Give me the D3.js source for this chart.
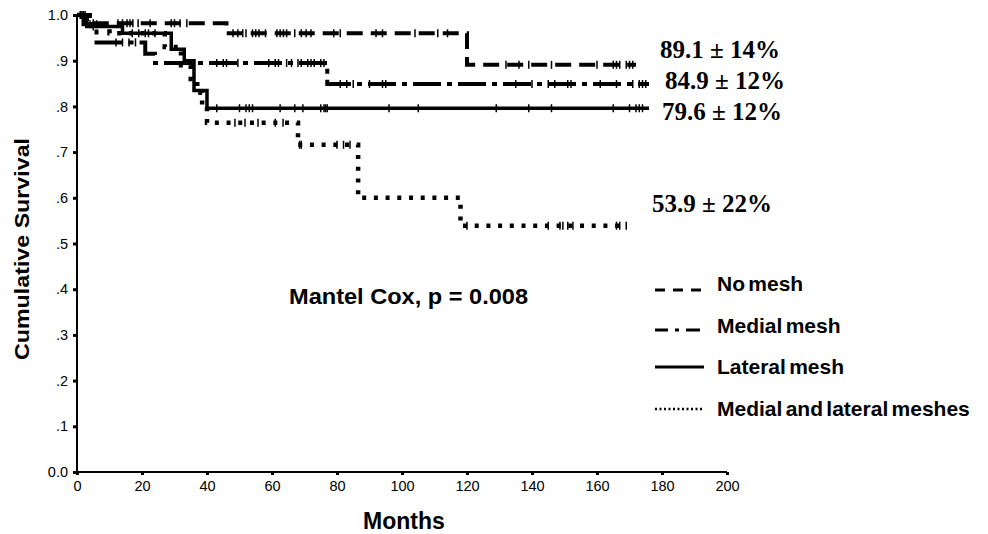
<!DOCTYPE html>
<html><head><meta charset="utf-8">
<script src="https://cdn.jsdelivr.net/npm/d3@7"></script>
<style>
body{margin:0;background:#fff;}
svg{display:block;}
.ax text{font-family:"Liberation Sans",Arial,sans-serif;font-size:14.5px;fill:#000;}
</style></head><body>
<svg id="c" width="988" height="534"></svg>
<script>
// ---- data ----
const groups = ["No mesh", "Medial mesh", "Lateral mesh", "Medial and lateral meshes"];
const noMeshTimes = [0, 4, 46, 120];
const noMeshSurv  = [1.0, 0.982, 0.96, 0.891];
const noMeshEnd = 172;
const medialTimes = [0, 2, 6, 21, 24, 77];
const medialSurv  = [1.0, 0.98, 0.94, 0.915, 0.895, 0.849];
const medialEnd = 176;
const lateralTimes = [0, 3, 14, 29, 33, 36, 40];
const lateralSurv  = [1.0, 0.975, 0.96, 0.925, 0.90, 0.835, 0.796];
const lateralEnd = 176;
const bothTimes = [0, 3, 10, 27, 32, 35, 37, 38.5, 40, 68, 86.5, 118];
const bothSurv  = [1.0, 0.98, 0.96, 0.93, 0.89, 0.86, 0.83, 0.80, 0.764, 0.716, 0.60, 0.539];
const bothEnd = 169;

const noMeshCensor = [1, 2.5, 5, 12.6, 14, 15.4, 16.3, 17.2, 18.8, 22.5, 29, 30, 31.7, 33.8, 48, 49.5, 51, 52, 54, 55, 56, 58, 61.5, 62.5, 63.5, 64.5, 67, 69, 70.5, 72, 79, 81, 92, 94, 104, 111, 114, 132, 136, 139, 146, 160, 165, 166, 167, 169, 170, 171];
const medialCensor = [1.5, 4, 12, 14, 16, 18, 43, 45, 46, 49.5, 59, 61, 62, 64.5, 66, 68, 69, 71, 72, 73, 75, 76, 81, 83, 85, 90, 94, 95, 135, 140, 145, 147, 151, 152, 161, 166, 171, 173, 174, 175];
const lateralCensor = [2, 5, 17, 19, 21, 24, 43, 50, 52, 53, 54, 62.5, 67, 69.5, 75, 76, 76.5, 77, 96, 105, 129, 139, 146, 165, 170, 172, 173, 174];
const bothCensor = [2, 6, 22, 48.6, 51.7, 55.7, 61, 63.4, 68.5, 69, 80, 82, 84, 120, 145, 148.6, 149.5, 151, 152.6, 166, 167, 169];

const pctLabels = ["89.1 ± 14%", "84.9 ± 12%", "79.6 ± 12%", "53.9 ± 22%"];
const yTicks = [0, 0.1, 0.2, 0.3, 0.4, 0.5, 0.6, 0.7, 0.8, 0.9, 1.0];
const xTicks = [0, 20, 40, 60, 80, 100, 120, 140, 160, 180, 200];
const pValueText = "Mantel Cox, p = 0.008";

// ---- drawing ----
const svg = d3.select("#c");
const x = d3.scaleLinear().domain([0, 200]).range([77, 727]);
const y = d3.scaleLinear().domain([0, 1]).range([472, 15]);

const series = [
  {t: noMeshTimes, s: noMeshSurv, end: noMeshEnd, c: noMeshCensor, dash: "16,8", w: 4},
  {t: medialTimes, s: medialSurv, end: medialEnd, c: medialCensor, dash: "28,6,5,6", w: 4},
  {t: lateralTimes, s: lateralSurv, end: lateralEnd, c: lateralCensor, dash: null, w: 3.5},
  {t: bothTimes, s: bothSurv, end: bothEnd, c: bothCensor, dash: "4,7.7", w: 4.5}
];

// axes
const yAxis = d3.axisLeft(y).tickValues(yTicks).tickSize(4).tickPadding(5)
  .tickFormat(d => d === 0 ? "0.0" : d === 1 ? "1.0" : "." + Math.round(d * 10));
const gy = svg.append("g").attr("class", "ax").attr("transform", "translate(77,0)").call(yAxis);
gy.select(".domain").attr("stroke-width", 2).attr("d", `M0,${y(1)}V${y(0)}`);
gy.selectAll(".tick line").attr("stroke-width", 3);

const xAxis = d3.axisBottom(x).tickValues(xTicks).tickSize(3).tickPadding(6);
const gx = svg.append("g").attr("class", "ax").attr("transform", "translate(0,472)").call(xAxis);
gx.select(".domain").attr("stroke-width", 2).attr("d", `M${x(0)},0H${x(200)}`);
gx.selectAll(".tick line").attr("stroke-width", 3);

function valAt(sr, tt) {
  let v = sr.s[0];
  for (let i = 0; i < sr.t.length; i++) if (sr.t[i] <= tt) v = sr.s[i];
  return v;
}

const line = d3.line().x(d => x(d[0])).y(d => y(d[1])).curve(d3.curveStepAfter);
series.forEach(sr => {
  const pts = sr.t.map((t, i) => [t, sr.s[i]]);
  pts.push([sr.end, sr.s[sr.s.length - 1]]);
  const p = svg.append("path").attr("d", line(pts)).attr("fill", "none")
    .attr("stroke", "#000").attr("stroke-width", sr.w);
  if (sr.dash) p.attr("stroke-dasharray", sr.dash);
  svg.append("g").selectAll("line").data(sr.c).join("line")
    .attr("x1", d => x(d)).attr("x2", d => x(d))
    .attr("y1", d => y(valAt(sr, d)) - 4).attr("y2", d => y(valAt(sr, d)) + 4)
    .attr("stroke", "#000").attr("stroke-width", 1.5);
});

// percent labels
const pctPos = [[660, 58], [665, 89], [662, 120], [652, 212]];
svg.append("g").selectAll("text").data(pctLabels).join("text")
  .attr("x", (d, i) => pctPos[i][0]).attr("y", (d, i) => pctPos[i][1])
  .attr("font-family", "'Liberation Serif','Times New Roman',serif")
  .attr("font-weight", "bold").attr("font-size", 25).text(d => d);

// p-value
svg.append("text").attr("x", 289).attr("y", 304)
  .attr("font-family", "'Liberation Sans',Arial,sans-serif").attr("font-weight", "bold")
  .attr("font-size", 22).attr("textLength", 239).attr("lengthAdjust", "spacingAndGlyphs").text(pValueText);

// legend
const legY = [283, 325, 366, 408];
const lg = svg.append("g");
groups.forEach((g, i) => {
  const ly = i === 0 ? legY[i] + 7 : i === 1 ? legY[i] + 5 : legY[i] + 1;
  let seg;
  if (i === 0) {
    seg = lg.append("path").attr("d", `M655,${ly}H704`).attr("stroke-dasharray", "10,8").attr("stroke-width", 3);
  } else if (i === 1) {
    seg = lg.append("path").attr("d", `M655,${ly}H704`).attr("stroke-dasharray", "13,7,4,7,14").attr("stroke-width", 3);
  } else if (i === 2) {
    seg = lg.append("path").attr("d", `M655,${ly}H704`).attr("stroke-width", 3);
  } else {
    seg = lg.append("path").attr("d", `M655,${ly}H704`).attr("stroke-dasharray", "2,2.5").attr("stroke-width", 2.5);
  }
  seg.attr("stroke", "#000").attr("fill", "none");
  lg.append("text").attr("x", 717).attr("y", legY[i] + 8)
    .attr("font-family", "'Liberation Sans',Arial,sans-serif").attr("font-weight", "bold")
    .attr("font-size", 21).attr("word-spacing", -2.5).text(g);
});

// axis titles
svg.append("text").attr("x", 404).attr("y", 529).attr("text-anchor", "middle")
  .attr("font-family", "'Liberation Sans',Arial,sans-serif").attr("font-weight", "bold")
  .attr("font-size", 23).text("Months");
svg.append("text").attr("transform", "translate(29,249) rotate(-90)").attr("text-anchor", "middle")
  .attr("font-family", "'Liberation Sans',Arial,sans-serif").attr("font-weight", "bold")
  .attr("font-size", 20).attr("textLength", 222).attr("lengthAdjust", "spacingAndGlyphs").text("Cumulative Survival");
</script></body></html>
